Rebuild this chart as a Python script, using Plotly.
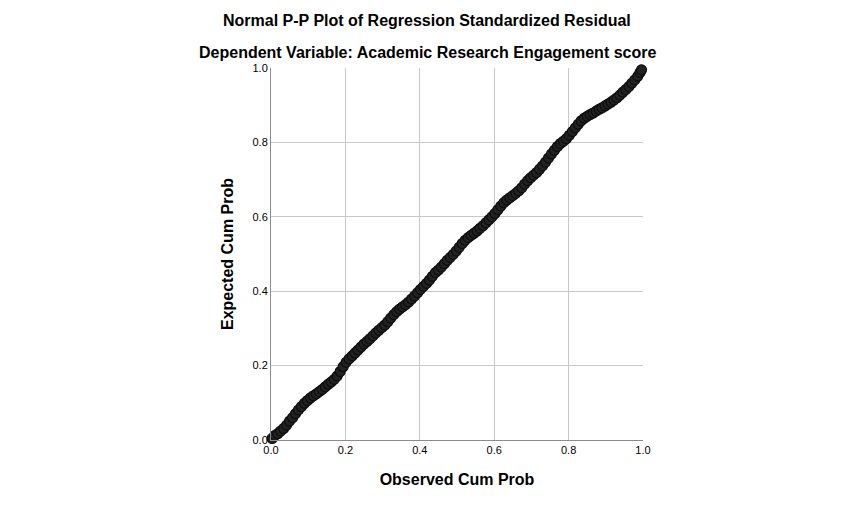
import plotly.graph_objects as go

# observed vs expected cumulative probabilities
observed = [0.003, 0.010, 0.018, 0.026, 0.034, 0.042, 0.050, 0.058, 0.066, 0.074,
            0.082, 0.090, 0.098, 0.106, 0.114, 0.122, 0.130, 0.138, 0.146, 0.154,
            0.162, 0.170, 0.178, 0.186, 0.194, 0.202, 0.210, 0.218, 0.226, 0.234,
            0.242, 0.250, 0.258, 0.266, 0.274, 0.282, 0.290, 0.298, 0.306, 0.314,
            0.322, 0.330, 0.338, 0.346, 0.354, 0.362, 0.370, 0.378, 0.386, 0.394,
            0.402, 0.410, 0.418, 0.426, 0.434, 0.442, 0.450, 0.458, 0.466, 0.474,
            0.482, 0.490, 0.498, 0.506, 0.514, 0.522, 0.530, 0.538, 0.546, 0.554,
            0.562, 0.570, 0.578, 0.586, 0.594, 0.602, 0.610, 0.618, 0.626, 0.634,
            0.642, 0.650, 0.658, 0.666, 0.674, 0.682, 0.690, 0.698, 0.706, 0.714,
            0.722, 0.730, 0.738, 0.746, 0.754, 0.762, 0.770, 0.778, 0.786, 0.794,
            0.802, 0.810, 0.818, 0.826, 0.834, 0.842, 0.850, 0.858, 0.866, 0.874,
            0.882, 0.890, 0.898, 0.906, 0.914, 0.922, 0.930, 0.938, 0.946, 0.954,
            0.962, 0.970, 0.978, 0.986, 0.992, 0.996]
expected = [0.004, 0.012, 0.017, 0.024, 0.031, 0.040, 0.051, 0.060, 0.071, 0.081,
            0.090, 0.099, 0.106, 0.113, 0.119, 0.124, 0.130, 0.136, 0.143, 0.150,
            0.156, 0.163, 0.172, 0.184, 0.197, 0.209, 0.218, 0.226, 0.234, 0.242,
            0.250, 0.258, 0.265, 0.272, 0.280, 0.288, 0.295, 0.302, 0.309, 0.318,
            0.328, 0.337, 0.345, 0.352, 0.358, 0.364, 0.371, 0.379, 0.387, 0.396,
            0.405, 0.413, 0.421, 0.430, 0.440, 0.450, 0.457, 0.465, 0.474, 0.483,
            0.491, 0.499, 0.508, 0.518, 0.528, 0.537, 0.544, 0.550, 0.556, 0.562,
            0.569, 0.576, 0.584, 0.592, 0.600, 0.609, 0.619, 0.629, 0.638, 0.645,
            0.651, 0.657, 0.663, 0.670, 0.678, 0.688, 0.697, 0.705, 0.712, 0.719,
            0.728, 0.737, 0.747, 0.758, 0.769, 0.779, 0.789, 0.797, 0.803, 0.810,
            0.819, 0.829, 0.839, 0.849, 0.858, 0.865, 0.870, 0.875, 0.879, 0.884,
            0.889, 0.893, 0.898, 0.903, 0.908, 0.914, 0.920, 0.927, 0.935, 0.942,
            0.950, 0.959, 0.968, 0.978, 0.988, 0.995]

tick_vals = [0.0, 0.2, 0.4, 0.6, 0.8, 1.0]
tick_text = ["0.0", "0.2", "0.4", "0.6", "0.8", "1.0"]

font = "Liberation Sans, Arial, sans-serif"

fig = go.Figure(go.Scatter(
    x=observed, y=expected, mode="markers", cliponaxis=False,
    marker=dict(size=10, color="#222222", line=dict(color="#0d0d0d", width=1.2)),
    showlegend=False))

axis = dict(range=[0, 1], tickvals=tick_vals, ticktext=tick_text,
            showgrid=True, gridcolor="#c8c8c8", gridwidth=1,
            zeroline=False, showline=True, linecolor="#8c8c8c", linewidth=1,
            ticks="", tickfont=dict(family=font, size=11, color="#000"),
            fixedrange=True)

# page body adds ~8px offset, so margins are shifted to compensate
ml, mr, mt, mb = 263, 220, 60, 73
plot_w = 855 - ml - mr
plot_h = 505 - mt - mb

fig.update_layout(
    width=855, height=505,
    margin=dict(l=ml, r=mr, t=mt, b=mb),
    paper_bgcolor="white", plot_bgcolor="white",
    font=dict(family=font, color="#000"),
    xaxis=dict(axis, title=dict(text="<b>Observed Cum Prob</b>",
                                font=dict(size=16, family=font), standoff=18)),
    yaxis=dict(axis, title=dict(text="<b>Expected Cum Prob</b>",
                                font=dict(size=16, family=font), standoff=14)),
)

# the two title lines are centred on the page, not on the plot area
titles = ["<b>Normal P-P Plot of Regression Standardized Residual</b>",
          "<b>Dependent Variable: Academic Research Engagement score</b>"]
title_cx = (419 - ml) / plot_w
for text, py in zip(titles, [12, 44]):
    fig.add_annotation(text=text, x=title_cx, y=1 + (mt - py) / plot_h,
                       xref="paper", yref="paper", xanchor="center", yanchor="middle",
                       showarrow=False, font=dict(size=16, family=font))

fig.write_html("out.html")
